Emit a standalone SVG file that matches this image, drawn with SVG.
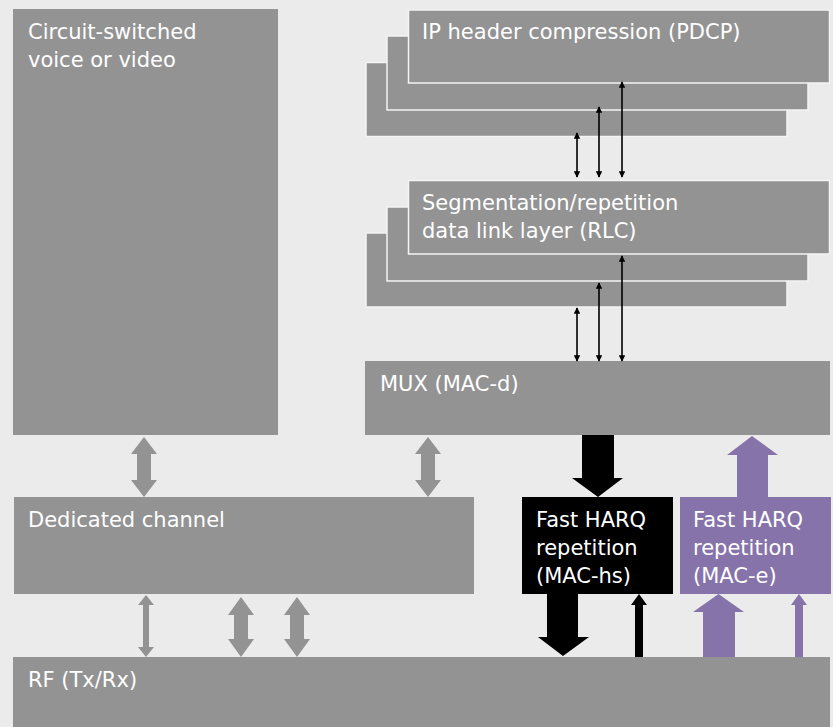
<svg xmlns="http://www.w3.org/2000/svg" width="833" height="727" viewBox="0 0 833 727">
<defs>
<style>
.bg{fill:#ebebeb}
.box{fill:#939393}
.stk{fill:#939393;stroke:#f4f4f4;stroke-width:1.5}
.t{font-family:"DejaVu Sans","Liberation Sans",sans-serif;font-size:21px;fill:#ffffff}
.ga{fill:#939393}
.ka{fill:#000000}
.pa{fill:#8673aa}
.thin{stroke:#000;stroke-width:1.6;fill:none;marker-start:url(#ah);marker-end:url(#ah)}
</style>
<marker id="ah" viewBox="0 0 10 10" refX="9" refY="5" markerWidth="7" markerHeight="6.5" markerUnits="userSpaceOnUse" orient="auto-start-reverse">
<path d="M0,0 L10,5 L0,10 Z" fill="#000"/>
</marker>
</defs>
<rect class="bg" x="0" y="0" width="833" height="727"/>

<g id="circuit">
<rect class="box" x="13" y="9" width="265" height="426"/>
<text class="t" x="28" y="39">Circuit-switched</text>
<text class="t" x="28" y="67">voice or video</text>
</g>

<g id="pdcp">
<rect class="stk" x="366" y="62.5" width="421" height="74"/>
<rect class="stk" x="387" y="36" width="421" height="74"/>
<rect class="stk" x="408.5" y="10" width="421" height="73"/>
<text class="t" x="422" y="39">IP header compression (PDCP)</text>
</g>

<g id="rlc">
<rect class="stk" x="366" y="233" width="421" height="74"/>
<rect class="stk" x="387" y="207" width="421" height="74"/>
<rect class="stk" x="408.5" y="180.5" width="421" height="73.5"/>
<text class="t" x="422" y="210">Segmentation/repetition</text>
<text class="t" x="422" y="238">data link layer (RLC)</text>
</g>

<g id="mux">
<rect class="box" x="365" y="361" width="465" height="74"/>
<text class="t" x="380" y="391">MUX (MAC-d)</text>
</g>

<g id="dedicated">
<rect class="box" x="14" y="497" width="460" height="97"/>
<text class="t" x="28" y="527">Dedicated channel</text>
</g>

<g id="machs">
<rect fill="#000" x="522" y="497" width="151" height="97"/>
<text class="t" x="536" y="527">Fast HARQ</text>
<text class="t" x="536" y="555">repetition</text>
<text class="t" x="536" y="583">(MAC-hs)</text>
</g>

<g id="mace">
<rect class="pa" x="680" y="497" width="151" height="97"/>
<text class="t" x="693" y="527">Fast HARQ</text>
<text class="t" x="693" y="555">repetition</text>
<text class="t" x="693" y="583">(MAC-e)</text>
</g>

<g id="rf">
<rect class="box" x="13" y="657" width="817" height="70"/>
<text class="t" x="28" y="687">RF (Tx/Rx)</text>
</g>

<g id="connectors">
<line class="thin" x1="577" y1="133" x2="577" y2="177"/>
<line class="thin" x1="599" y1="107" x2="599" y2="177"/>
<line class="thin" x1="622" y1="82" x2="622" y2="177"/>
<line class="thin" x1="577" y1="308" x2="577" y2="361"/>
<line class="thin" x1="599" y1="283" x2="599" y2="361"/>
<line class="thin" x1="622" y1="256" x2="622" y2="361"/>

<path class="ga" d="M144,437 L157,454 L151,454 L151,480 L157,480 L144,497 L131,480 L137,480 L137,454 L131,454 Z"/>
<path class="ga" d="M428,437 L441,454 L435,454 L435,480 L441,480 L428,497 L415,480 L421,480 L421,454 L415,454 Z"/>
<path class="ga" d="M146,595 L154,605 L149,605 L149,647 L154,647 L146,657 L138,647 L143,647 L143,605 L138,605 Z"/>
<path class="ga" d="M241,597 L254,615 L248,615 L248,639 L254,639 L241,657 L228,639 L234,639 L234,615 L228,615 Z"/>
<path class="ga" d="M297,597 L310,615 L304,615 L304,639 L310,639 L297,657 L284,639 L290,639 L290,615 L284,615 Z"/>

<path class="ka" d="M582,435 L614,435 L614,478 L623,478 L598,497 L572,478 L582,478 Z"/>
<path class="ka" d="M547,594 L578,594 L578,637 L589,637 L563,656 L538,637 L547,637 Z"/>
<path class="ka" d="M635,657 L643,657 L643,605 L647,605 L639,594 L631,605 L635,605 Z"/>

<path class="pa" d="M737,497 L768,497 L768,455 L778,455 L752,436 L727,455 L737,455 Z"/>
<path class="pa" d="M703,657 L735,657 L735,612 L744,612 L718.5,594 L693,612 L703,612 Z"/>
<path class="pa" d="M795,657 L803,657 L803,605 L807,605 L799,594 L791,605 L795,605 Z"/>
</g>
</svg>
